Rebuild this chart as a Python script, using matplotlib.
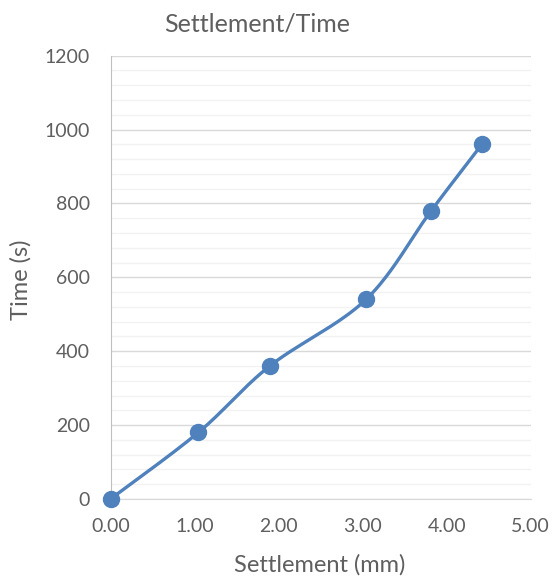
import numpy as np
import matplotlib
matplotlib.use("Agg")
import matplotlib.pyplot as plt
from matplotlib.ticker import MultipleLocator

# Measurements
settlement_mm = [0.0, 1.045, 1.895, 3.04, 3.815, 4.42]
time_s = [0, 180, 360, 540, 780, 960]
x_ticks = [0, 1, 2, 3, 4, 5]
y_ticks = [0, 200, 400, 600, 800, 1000, 1200]


def smooth_curve(xs, ys, n=40):
    """Catmull-Rom style smoothing through every point."""
    pts = np.column_stack([xs, ys]).astype(float)
    ext = np.vstack([pts[0], pts, pts[-1]])
    out = []
    for i in range(1, len(ext) - 2):
        p0, p1, p2, p3 = ext[i - 1], ext[i], ext[i + 1], ext[i + 2]
        c1 = p1 + (p2 - p0) / 6.0
        c2 = p2 - (p3 - p1) / 6.0
        t = np.linspace(0, 1, n)[:, None]
        seg = ((1 - t) ** 3) * p1 + 3 * ((1 - t) ** 2) * t * c1 + 3 * (1 - t) * t ** 2 * c2 + t ** 3 * p2
        out.append(seg if i == 1 else seg[1:])
    seg = np.vstack(out)
    return seg[:, 0], seg[:, 1]


plt.rcParams['font.family'] = ['Lato', 'DejaVu Sans']
text_color = '#5f5f5f'

fig = plt.figure(figsize=(5.52, 5.78), dpi=100)
ax = fig.add_axes([0.2002, 0.1367, 0.7612, 0.767])

ax.set_xlim(0, 5)
ax.set_ylim(0, 1200)
ax.set_xticks(x_ticks)
ax.set_xticklabels([f"{v:.2f}" for v in x_ticks])
ax.set_yticks(y_ticks)
ax.yaxis.set_minor_locator(MultipleLocator(40))

ax.grid(which='major', axis='y', color='#D9D9D9', linewidth=1.0)
ax.grid(which='minor', axis='y', color='#F2F2F2', linewidth=1.0)
ax.set_axisbelow(True)

for side in ['top', 'right']:
    ax.spines[side].set_visible(False)
ax.spines['left'].set_color('#BFBFBF')
ax.spines['bottom'].set_color('#D9D9D9')
ax.tick_params(which='both', length=0, colors=text_color, labelsize=14)
ax.tick_params(axis='x', pad=14)
ax.tick_params(axis='y', pad=15)

sx, sy = smooth_curve(settlement_mm, time_s)
line_color = '#4F81BD'
ax.plot(sx, sy, color=line_color, linewidth=2.4, clip_on=False, zorder=3)
ax.plot(settlement_mm, time_s, 'o', color=line_color, markersize=11.5, clip_on=False, zorder=4)

fig.text(0.4665, 0.9585, 'Settlement/Time', fontsize=18, color=text_color,
         ha='center', va='center')
fig.text(0.5797, 0.0225, 'Settlement (mm)', fontsize=17, color=text_color,
         ha='center', va='center')
fig.text(0.038, 0.5164, 'Time (s)', fontsize=17, color=text_color,
         ha='center', va='center', rotation=90)

fig.savefig('out.png', dpi=100)
